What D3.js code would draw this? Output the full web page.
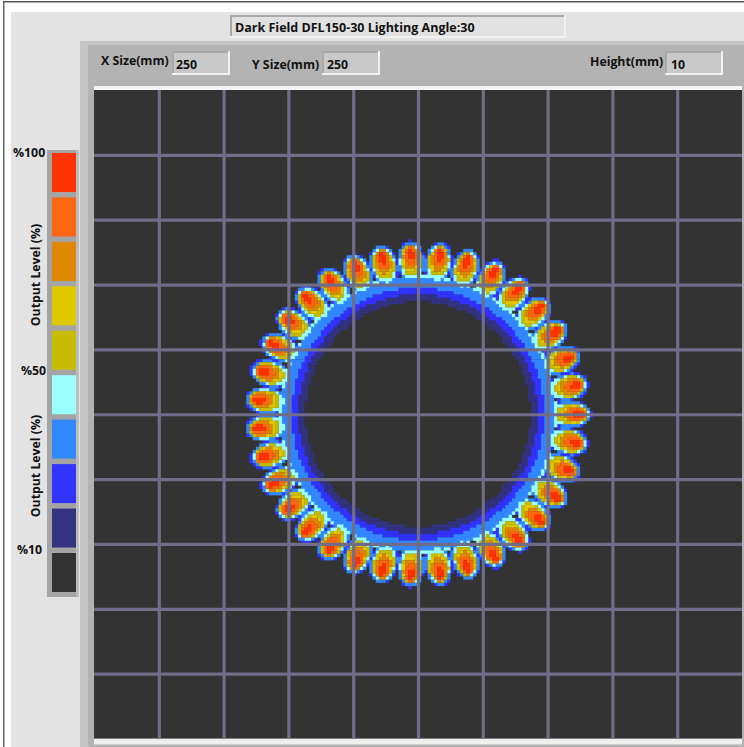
<!DOCTYPE html>
<html><head><meta charset="utf-8">
<script src="https://cdn.jsdelivr.net/npm/d3@7/dist/d3.min.js"></script>
<style>html,body{margin:0;padding:0;background:#fff;overflow:hidden}svg{display:block}text{font-family:"Open Sans","Noto Sans",sans-serif;font-weight:700;fill:#111}</style>
</head><body><svg id="c" width="744" height="747"></svg>
<script>
// ---------- data ----------
const titleText = "Dark Field DFL150-30 Lighting Angle:30";
const xSize = 250, ySize = 250, heightMm = 10;
const gridTicksMm = [25, 50, 75, 100, 125, 150, 175, 200, 225];
const legendColors = ["#ff3300","#ff6611","#dd8800","#e0c800","#c8bc00","#99ffff","#3388ff","#3333ff","#333380","#333333"];
// LED spots: bearing in degrees
const ledAngles = [0,10.3,20.6,30.9,41.1,51.4,61.7,72,82.3,92.6,102.9,113.1,123.4,133.7,144,154.3,164.6,174.9,185.1,195.4,205.7,216,226.3,236.6,246.9,257.1,267.4,277.7,288,298.3,308.6,318.9,329.1,339.4,349.7];
// output level index (1 = %10 band ... 9 = %100 band)
const ringLevels = [1, 2, 3, 4];
const ringOuterMm = [46.2, 48.8, 52.8, 53.4];
const ringInnerMm = 43.4;
const spotLevels = [2, 3, 4, 5, 6, 7, 8, 9];
const spotCentreMm = [59, 59, 58.8, 59.4, 59.8, 60.4, 61, 61.7];
const spotLongMm = [8, 7.5, 6.9, 5.8, 5, 4.6, 3.6, 2.2];
const spotWideMm = [5.4, 5, 4.3, 3.9, 3.3, 2.9, 2.2, 1.25];
const rasterMm = 1.25;

// ---------- layout ----------
const svg = d3.select("#c");
const R = (x,y,w,h,f,p=svg)=>p.append("rect").attr("x",x).attr("y",y).attr("width",w).attr("height",h).attr("fill",f);
const T = (s,x,y,size=12.3)=>svg.append("text").attr("x",x).attr("y",y).attr("font-size",size).text(s);

R(0,0,744,747,"#fff");
R(3,1,741,1.5,"#555"); R(3,1,1.5,746,"#666");
R(11,12,733,735,"#e3e3e3");
function field(x,y,w,h,face,txt,tx,ty,size){
  R(x,y,w,h,"#f1f1f1"); R(x,y,w-2,h-2,"#a9a9a9"); R(x+2,y+2,w-4,h-4,face);
  if(txt!==undefined) T(txt,tx,ty,size);
}
field(230,15,336,23,"#e1e1e1",titleText,235,32,12.5);
R(80,41,664,706,"#c6c6c6"); R(88,45,656,702,"#b3b3b3");
field(172,51,58,24,"#c9c9c9",xSize,176,69);
field(322,51,58,24,"#c9c9c9",ySize,327,69);
field(665,51,58,24,"#c9c9c9",heightMm,671,69);
T("X Size(mm)",101,65); T("Y Size(mm)",252,69); T("Height(mm)",590,66);

const plotL=94, plotT=90, plotW=648, plotH=648.5;
R(plotL,86,plotW,4,"#f4f4f4"); R(plotL,plotT+plotH,plotW,6,"#eeeeee");
const x = d3.scaleLinear().domain([0,xSize]).range([plotL,plotL+plotW]);
const y = d3.scaleLinear().domain([0,ySize]).range([plotT,plotT+plotH]);
R(plotL,plotT,plotW,plotH,legendColors[9]);

const cx=xSize/2, cy=ySize/2;
function levelAt(mx,my){
  const dx=mx-cx, dy=my-cy, d=Math.hypot(dx,dy);
  let lv=0;
  if(d>=ringInnerMm){
    for(let i=0;i<ringLevels.length;i++){ if(d<ringOuterMm[i]){lv=ringLevels[i];break;} }
  }
  if(d<40||d>72) return lv;
  ledAngles.forEach(a=>{
    const t=a*Math.PI/180, ux=Math.cos(t), uy=-Math.sin(t);
    const rr=dx*ux+dy*uy, tt=-dx*uy+dy*ux;
    spotLevels.forEach((l,i)=>{
      if(l<=lv) return;
      const p=(rr-spotCentreMm[i])/spotLongMm[i], q=tt/spotWideMm[i];
      if(p*p+q*q<=1) lv=l;
    });
  });
  return lv;
}
const paths=d3.range(10).map(()=>[]);
const nx=Math.round(xSize/rasterMm), ny=Math.round(ySize/rasterMm);
for(let j=0;j<ny;j++)for(let i=0;i<nx;i++){
  const mx=i*rasterMm, my=j*rasterMm;
  const l=levelAt(mx+rasterMm/2,my+rasterMm/2);
  if(l>0){const X=x(mx),Y=y(my),W=x(mx+rasterMm)-X,H=y(my+rasterMm)-Y;
    paths[l].push(`M${X.toFixed(2)} ${Y.toFixed(2)}h${W.toFixed(2)}v${H.toFixed(2)}h${(-W).toFixed(2)}z`);}
}
svg.append("g").selectAll("path").data(d3.range(1,10)).join("path")
  .attr("d",l=>paths[l].join(""))
  .attr("fill",l=>legendColors[9-l])
  .attr("stroke",l=>legendColors[9-l]).attr("stroke-width",0.2);

const grid=svg.append("g").attr("stroke","#6f6d88").attr("stroke-width",3.2);
grid.selectAll("line.v").data(gridTicksMm).join("line").attr("class","v")
  .attr("x1",d=>x(d)+.5).attr("x2",d=>x(d)+.5).attr("y1",plotT).attr("y2",plotT+plotH);
grid.selectAll("line.h").data(gridTicksMm).join("line").attr("class","h")
  .attr("y1",d=>y(d)+.5).attr("y2",d=>y(d)+.5).attr("x1",plotL).attr("x2",plotL+plotW);

R(47,150,32,447,"#a4a4a4");
R(76,150,3,447,"#bcbcbc");
const ly=d3.scaleBand().domain(d3.range(legendColors.length)).range([153,592]).paddingInner(0.1225).paddingOuter(0);
svg.append("g").selectAll("rect").data(legendColors).join("rect")
  .attr("x",52).attr("width",24).attr("y",(d,i)=>ly(i)).attr("height",ly.bandwidth()).attr("fill",d=>d);
T("%100",13,157); T("%50",21,375); T("%10",17,554);
[275,466].forEach(c=>svg.append("text").attr("font-size",12.3).attr("text-anchor","middle")
  .attr("transform",`translate(40,${c}) rotate(-90)`).text("Output Level (%)"));
</script></body></html>
